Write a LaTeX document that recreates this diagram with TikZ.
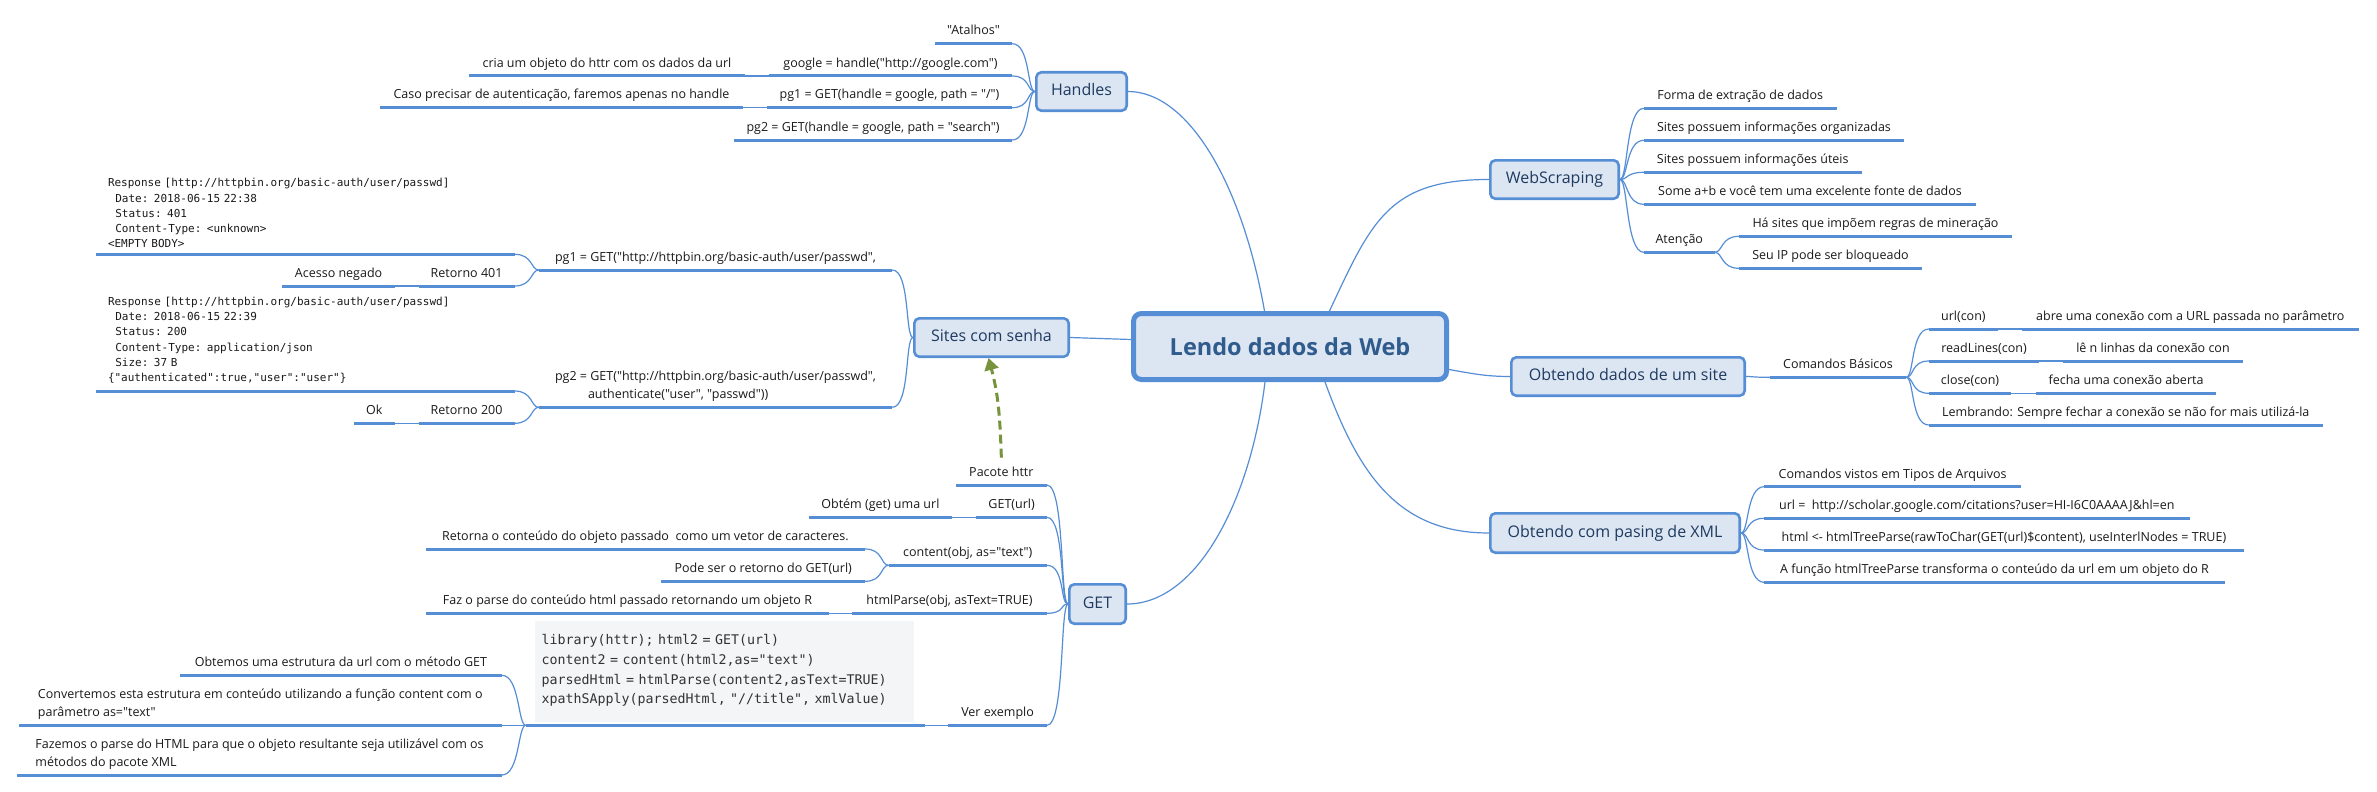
\documentclass[tikz,border=0pt]{standalone}
\usepackage{fontspec}
\setmainfont{Open Sans}[Ligatures=TeXOff]
\newfontfamily\monofam{DejaVu Sans Mono}[Ligatures=TeXOff]
\usetikzlibrary{arrows.meta}
\definecolor{linec}{HTML}{558ED5}
\definecolor{boxfill}{HTML}{DCE6F2}
\definecolor{boxtext}{HTML}{1F3A60}
\definecolor{centertext}{HTML}{2F5B8D}
\definecolor{subtext}{HTML}{1A1A1A}
\definecolor{codebg}{HTML}{F4F5F7}
\definecolor{codetext}{HTML}{333333}
\definecolor{relgreen}{HTML}{77933C}
\newcommand\subtopic[6][]{%
  \pgfmathsetmacro\stx{(#3+#4)/2}%
  \pgfmathsetmacro\stw{#4-#3}%
  \node[subt,minimum width=\stw pt,#1] (#2) at (\stx,#5) {#6};%
  \draw[uline] (#2.south west) -- (#2.south east);}
\newcommand\lfork[2]{\draw[conn] (#1) to[out=180,in=0,out distance=8pt,in distance=18pt] (#2.south east);}
\newcommand\rfork[2]{\draw[conn] (#1) to[out=0,in=180,out distance=8pt,in distance=18pt] (#2.south west);}
\begin{document}
\begin{tikzpicture}[x=1pt,y=-1pt,
  subt/.style={anchor=south, inner xsep=0pt, inner ysep=5pt, text depth=3.5pt,
    font=\fontsize{12.5}{17.7}\selectfont, text=subtext},
  resp/.style={text width=394.5pt, inner xsep=12pt, align=left, text depth=,
    font=\monofam\fontsize{11}{15.2}\selectfont},
  codeblk/.style={text width=367.4pt, inner xsep=15.6pt, align=left, inner ysep=18.4pt,
    text depth=, font=\monofam\fontsize{13.3}{19.8}\selectfont, text=codetext},
  uline/.style={draw=linec, line width=3pt},
  conn/.style={draw=linec, line width=1.2pt},
  mainbox/.style={draw=linec, fill=boxfill, line width=2.6pt, rounded corners=5pt,
    font=\fontsize{16}{19}\selectfont, text=boxtext, inner sep=0pt,
    text height=11.5pt, text depth=3.5pt},
  centerbox/.style={draw=linec, fill=boxfill, line width=5pt, rounded corners=8pt,
    font=\fontsize{23.5}{27}\selectfont\bfseries, text=centertext, inner sep=0pt,
    minimum width=313pt, minimum height=66pt},
  relarrow/.style={draw=relgreen, line width=3pt, dash pattern=on 9pt off 5pt,
    -{Triangle[length=12pt,width=14pt]}}
]
\fill[white] (0,0) rectangle (2377,792);
\useasboundingbox (0,0) rectangle (2377,792);

% main topics
\node[centerbox] (center) at (1290,346.5) {Lendo dados da Web};
\node[mainbox, minimum width=90.4pt, minimum height=38.4pt] (handles) at (1081.5,91.5) {Handles};
\node[mainbox, minimum width=154.4pt, minimum height=38.4pt] (sites) at (991.5,337.5) {Sites com senha};
\node[mainbox, minimum width=56.4pt, minimum height=39.4pt] (get) at (1097.5,604) {GET};
\node[mainbox, minimum width=128.4pt, minimum height=38.4pt] (web) at (1554.5,179.5) {WebScraping};
\node[mainbox, minimum width=233.4pt, minimum height=38.4pt] (obt) at (1628,376.5) {Obtendo dados de um site};
\node[mainbox, minimum width=249.4pt, minimum height=39.4pt] (xml) at (1615,533) {Obtendo com pasing de XML};

\draw[conn] ([xshift=133.5pt]center.north west) to[out=100,in=0,out distance=130pt,in distance=60pt] (handles.east);
\draw[conn] ([xshift=198.5pt]center.north west) to[out=65,in=180,out distance=100pt,in distance=100pt] (web.west);
\draw[conn] ([xshift=134pt]center.south west) to[out=-97,in=0,out distance=120pt,in distance=70pt] (get.east);
\draw[conn] ([xshift=194pt]center.south west) to[out=-70,in=180,out distance=100pt,in distance=90pt] (xml.west);
\draw[conn] ([yshift=-23pt]center.east) to[out=-10,in=180] (obt.west);
\draw[conn] ([yshift=7pt]center.west) -- (sites.east);

% Handles
\subtopic{h1}{935}{1012}{43.7}{"Atalhos"}
\subtopic{h2}{769}{1012}{76}{google = handle("http://google.com")}
\subtopic{h2a}{469}{745}{76}{cria um objeto do httr com os dados da url}
\subtopic{h3}{767}{1012}{107.7}{pg1 = GET(handle = google, path = "/")}
\subtopic{h3a}{380}{743}{107.7}{Caso precisar de autenticação, faremos apenas no handle}
\subtopic{h4}{734}{1012}{140}{pg2 = GET(handle = google, path = "search")}
\lfork{handles.west}{h1}
\lfork{handles.west}{h2}
\lfork{handles.west}{h3}
\lfork{handles.west}{h4}
\lfork{h2.south west}{h2a}
\lfork{h3.south west}{h3a}

% Sites com senha
\subtopic{s1}{539}{892}{270}{pg1 = GET("http://httpbin.org/basic-auth/user/passwd",}
\subtopic[resp, inner ysep=6.3pt]{s1r}{96}{514.5}{254.3}{Response [http://httpbin.org/basic-auth/user/passwd]\\\mbox{\ \ }Date: 2018-06-15 22:38\\\mbox{\ \ }Status: 401\\\mbox{\ \ }Content-Type: <unknown>\\<EMPTY BODY>}
\subtopic{s1b}{418.7}{514.5}{286}{Retorno 401}
\subtopic{s1ba}{282.6}{394.6}{286}{Acesso negado}
\subtopic[align=left]{s2}{539}{892}{407.3}{pg2 = GET("http://httpbin.org/basic-auth/user/passwd",\\\hspace*{33pt}authenticate("user", "passwd"))}
\subtopic[resp, inner ysep=7.5pt]{s2r}{96}{514.5}{391}{Response [http://httpbin.org/basic-auth/user/passwd]\\\mbox{\ \ }Date: 2018-06-15 22:39\\\mbox{\ \ }Status: 200\\\mbox{\ \ }Content-Type: application/json\\\mbox{\ \ }Size: 37 B\\\{"authenticated":true,"user":"user"\}}
\subtopic{s2b}{418.7}{514.5}{423.3}{Retorno 200}
\subtopic{s2ba}{354}{394.6}{423.3}{Ok}
\lfork{sites.west}{s1}
\lfork{sites.west}{s2}
\lfork{s1.south west}{s1r}
\lfork{s1.south west}{s1b}
\lfork{s1b.south west}{s1ba}
\lfork{s2.south west}{s2r}
\lfork{s2.south west}{s2b}
\lfork{s2b.south west}{s2ba}

% GET
\subtopic{g1}{956}{1046.7}{485}{Pacote httr}
\subtopic{g2}{976.5}{1046.7}{517.3}{GET(url)}
\subtopic{g2a}{808.8}{952}{517.3}{Obtém (get) uma url}
\subtopic{g3}{888.8}{1046.7}{565.3}{content(obj, as="text")}
\subtopic{g3a}{425.8}{865}{549}{Retorna o conteúdo do objeto passado\ \ como um vetor de caracteres.}
\subtopic{g3b}{661.5}{865}{581.3}{Pode ser o retorno do GET(url)}
\subtopic{g4}{852.3}{1046.7}{613.3}{htmlParse(obj, asText=TRUE)}
\subtopic{g4a}{425.8}{829.2}{613.3}{Faz o parse do conteúdo html passado retornando um objeto R}
\subtopic{g5}{948.5}{1046.7}{725.3}{Ver exemplo}
\fill[codebg] (535,621) rectangle (914,721.7);
\subtopic[codeblk]{g5a}{526}{924.6}{725.3}{library(httr); html2 = GET(url)\\content2 = content(html2,as="text")\\parsedHtml = htmlParse(content2,asText=TRUE)\\xpathSApply(parsedHtml, "//title", xmlValue)}
\subtopic{g5a1}{180.3}{501.6}{675.3}{Obtemos uma estrutura da url com o método GET}
\subtopic[align=left]{g5a2}{19}{501.6}{725.3}{Convertemos esta estrutura em conteúdo utilizando a função content com o\\parâmetro as="text"}
\subtopic[align=left]{g5a3}{17.5}{501.6}{775}{Fazemos o parse do HTML para que o objeto resultante seja utilizável com os\\métodos do pacote XML}
\lfork{get.west}{g1}
\lfork{get.west}{g2}
\lfork{get.west}{g3}
\lfork{get.west}{g4}
\lfork{get.west}{g5}
\lfork{g2.south west}{g2a}
\lfork{g3.south west}{g3a}
\lfork{g3.south west}{g3b}
\lfork{g4.south west}{g4a}
\lfork{g5.south west}{g5a}
\lfork{g5a.south west}{g5a1}
\lfork{g5a.south west}{g5a2}
\lfork{g5a.south west}{g5a3}
\draw[relarrow] ([yshift=4pt]g1.north) to[out=92,in=-75] ([xshift=-3pt]sites.south);

% WebScraping
\subtopic{w1}{1644}{1836.4}{108.3}{Forma de extração de dados}
\subtopic{w2}{1644}{1903.9}{140.3}{Sites possuem informações organizadas}
\subtopic{w3}{1644}{1861.5}{172.3}{Sites possuem informações úteis}
\subtopic{w4}{1644}{1976}{204.3}{Some a+b e você tem uma excelente fonte de dados}
\subtopic{w5}{1644}{1714.5}{252.3}{Atenção}
\subtopic{w5a}{1739}{2012}{236.3}{Há sites que impõem regras de mineração}
\subtopic{w5b}{1739}{1922}{268.3}{Seu IP pode ser bloqueado}
\rfork{web.east}{w1}
\rfork{web.east}{w2}
\rfork{web.east}{w3}
\rfork{web.east}{w4}
\rfork{web.east}{w5}
\rfork{w5.south east}{w5a}
\rfork{w5.south east}{w5b}

% Obtendo dados de um site
\subtopic{o1}{1770}{1906}{377.3}{Comandos Básicos}
\subtopic{o1a}{1929}{1997.7}{329}{url(con)}
\subtopic{o1a1}{2021.7}{2359}{329}{abre uma conexão com a URL passada no parâmetro}
\subtopic{o1b}{1929}{2039}{361}{readLines(con)}
\subtopic{o1b1}{2063.4}{2242.5}{361}{lê n linhas da conexão con}
\subtopic{o1c}{1929}{2011}{393.3}{close(con)}
\subtopic{o1c1}{2036}{2216}{393.3}{fecha uma conexão aberta}
\subtopic{o1d}{1929}{2322.6}{425}{Lembrando: Sempre fechar a conexão se não for mais utilizá-la}
\rfork{obt.east}{o1}
\rfork{o1.south east}{o1a}
\rfork{o1.south east}{o1b}
\rfork{o1.south east}{o1c}
\rfork{o1.south east}{o1d}
\rfork{o1a.south east}{o1a1}
\rfork{o1b.south east}{o1b1}
\rfork{o1c.south east}{o1c1}

% XML
\subtopic{x1}{1764.3}{2021}{486.7}{Comandos vistos em Tipos de Arquivos}
\subtopic{x2}{1764.3}{2189.3}{518.3}{url =\ \ http://scholar.google.com/citations?user=HI-I6C0AAAAJ\&hl=en}
\subtopic{x3}{1764.3}{2243.6}{550}{html <- htmlTreeParse(rawToChar(GET(url)\$content), useInterlNodes = TRUE)}
\subtopic{x4}{1764.3}{2224.7}{582.3}{A função htmlTreeParse transforma o conteúdo da url em um objeto do R}
\rfork{xml.east}{x1}
\rfork{xml.east}{x2}
\rfork{xml.east}{x3}
\rfork{xml.east}{x4}
\end{tikzpicture}
\end{document}
